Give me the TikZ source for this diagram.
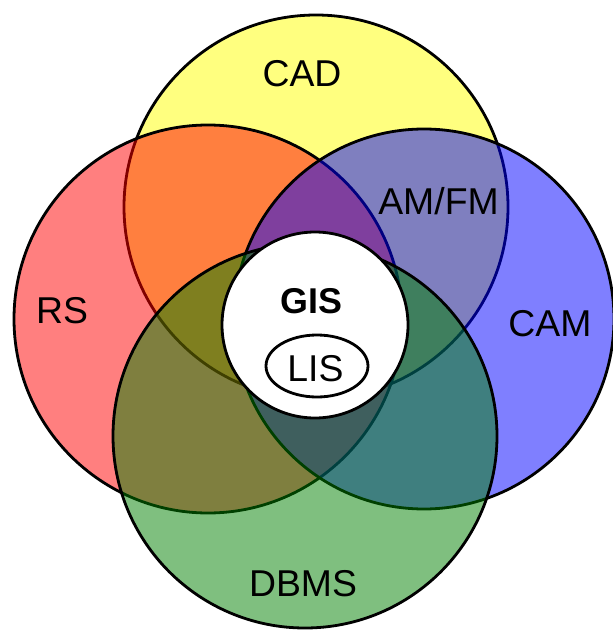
\documentclass[tikz,border=0pt]{standalone}
\usepackage{fontspec}
\setmainfont{Liberation Sans}
\definecolor{cadyellow}{RGB}{255,255,0}
\definecolor{rsred}{RGB}{255,0,0}
\definecolor{camblue}{RGB}{0,0,255}
\definecolor{dbgreen}{RGB}{0,128,0}
\begin{document}
\begin{tikzpicture}[x=1bp,y=-1bp,line width=2.8bp,
  setfill/.style={fill=#1,fill opacity=0.5,draw=black},
  inner/.style={fill=white,draw=black},
  lbl/.style={font=\fontsize{37.5}{40}\selectfont,anchor=base,inner sep=0pt,text=black},
  lblbold/.style={font=\fontsize{36}{40}\selectfont\bfseries,anchor=base,inner sep=0pt,text=black}]
\useasboundingbox (0,0) rectangle (613,633);
% sets
\path[setfill=cadyellow] (316,207) circle (192bp);
\path[setfill=rsred] (208,319) circle (194bp);
\path[setfill=camblue] (424,319) circle (190bp);
\path[setfill=dbgreen] (305,436) circle (192bp);
% GIS core
\path[inner] (315,325) circle (93bp);
\path[inner] (317,366) ellipse [x radius=51bp,y radius=31bp];
% labels
\node[lbl] (cad) at (302,87) {CAD};
\node[lbl] (rs) at (62,323) {RS};
\node[lbl] (cam) at (550,336) {CAM};
\node[lbl] (amfm) at (438.5,214) {AM/FM};
\node[lbl] (dbms) at (303,596) {DBMS};
\node[lblbold] (gis) at (311.5,313) {GIS};
\node[lbl] (lis) at (315.5,381) {LIS};
\end{tikzpicture}
\end{document}
